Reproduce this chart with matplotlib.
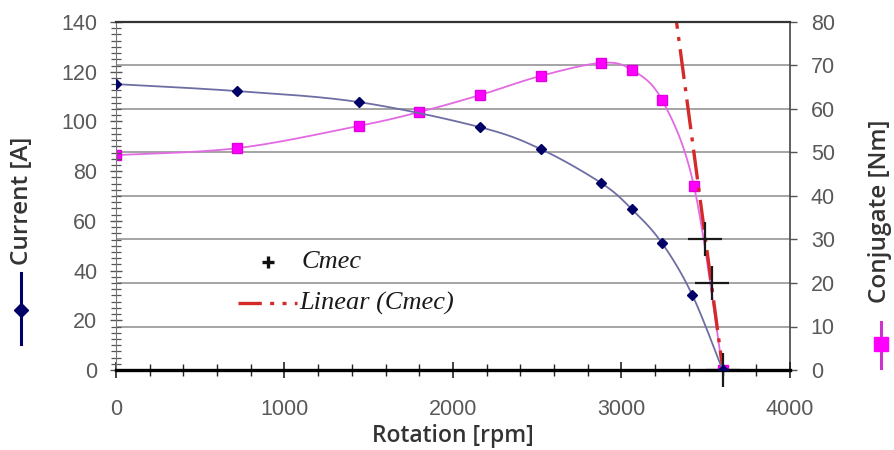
import numpy as np
import matplotlib
matplotlib.use("Agg")
import matplotlib.pyplot as plt
from matplotlib.lines import Line2D
from matplotlib.ticker import MultipleLocator

# --------------------------
# Data
# --------------------------
rpm_current = [0, 720, 1440, 2160, 2520, 2880, 3060, 3240, 3420, 3600]
current_a = [115.0, 112.2, 107.8, 97.7, 88.9, 75.2, 64.8, 51.1, 30.2, 0.0]

rpm_torque = [0, 720, 1440, 1800, 2160, 2520, 2880, 3060, 3240, 3430, 3600]
torque_nm = [49.4, 51.0, 56.1, 59.3, 63.2, 67.6, 70.6, 69.0, 62.1, 42.3, 0.0]

rpm_cmec = [3496, 3537, 3600]
cmec_nm = [30.0, 20.0, 0.0]

x_ticks = [0, 1000, 2000, 3000, 4000]
left_ticks = [0, 20, 40, 60, 80, 100, 120, 140]
right_ticks = [0, 10, 20, 30, 40, 50, 60, 70, 80]


# --------------------------
# Excel-like smoothed line (Catmull-Rom in axis-normalised space)
# --------------------------
def smooth(x, y, xspan, yspan, n=30):
    p = np.column_stack([np.asarray(x, float) / xspan, np.asarray(y, float) / yspan])
    p = np.vstack([p[0], p, p[-1]])
    out = []
    t = np.linspace(0, 1, n)[:, None]
    for i in range(1, len(p) - 2):
        p0, p1, p2, p3 = p[i - 1], p[i], p[i + 1], p[i + 2]
        seg = 0.5 * ((2 * p1) + (-p0 + p2) * t + (2 * p0 - 5 * p1 + 4 * p2 - p3) * t ** 2
                     + (-p0 + 3 * p1 - 3 * p2 + p3) * t ** 3)
        out.append(seg if i == 1 else seg[1:])
    out = np.vstack(out)
    return out[:, 0] * xspan, out[:, 1] * yspan


def fx(px):
    return px / 894


def fy(py):
    return 1 - py / 450


tick_font = "Liberation Sans"
label_font = "Open Sans"
tick_color = "#595959"
tick_size = 15.5
title_size = 17.5
legend_font = {"family": "Liberation Serif", "style": "italic", "size": 19, "color": "#1a1a1a"}
fit_color = "#d42a2a"

fig = plt.figure(figsize=(8.94, 4.5), dpi=100)
ax = fig.add_axes([fx(116), fy(370), fx(790 - 116), (370 - 22) / 450])
ax2 = ax.twinx()

# current on top of the torque axes (grid lives on ax2)
ax.set_zorder(ax2.get_zorder() + 1)
ax.patch.set_visible(False)

# --------------------------
# Torque + Cmec (right axis)
# --------------------------
ax2.grid(axis="y", color="#8c8c8c", linewidth=1.1, zorder=0)
ax2.set_axisbelow(True)

sx, sy = smooth(rpm_torque, torque_nm, 4000, 80)
ax2.plot(sx, sy, color="#e26ae2", linewidth=1.3, zorder=2)
ax2.plot(rpm_torque, torque_nm, linestyle="none", marker="s", markersize=7.5,
         color="#ff00ff", markeredgecolor="#e000e0", zorder=3)

coef = np.polyfit(rpm_cmec, cmec_nm, 1)
fit_x = np.array([3000, 3700])
ax2.plot(fit_x, np.polyval(coef, fit_x), color=fit_color, linewidth=2.4,
         dashes=(9, 2.5, 1.2, 2.5), zorder=4)
ax2.plot(rpm_cmec, cmec_nm, linestyle="none", marker="+", markersize=24,
         markeredgewidth=1.6, color="#1a1a1a", zorder=5, clip_on=False)

# --------------------------
# Current (left axis)
# --------------------------
cx, cy = smooth(rpm_current, current_a, 4000, 140)
ax.plot(cx, cy, color="#6e6ea4", linewidth=1.3, zorder=2)
ax.plot(rpm_current, current_a, linestyle="none", marker="D", markersize=5.5,
        color="#000066", zorder=3)

# --------------------------
# Axes / ticks
# --------------------------
ax.set_xlim(0, 4000)
ax.set_ylim(0, 140)
ax2.set_ylim(0, 80)

ax.set_xticks(x_ticks)
ax.xaxis.set_minor_locator(MultipleLocator(200))
ax.set_yticks(left_ticks)
ax.yaxis.set_minor_locator(MultipleLocator(2.5))
ax2.set_yticks(right_ticks)

ax.tick_params(axis="x", which="major", direction="inout", length=12, width=1.2,
               color="#222222", labelsize=tick_size, labelcolor=tick_color, pad=15)
ax.tick_params(axis="x", which="minor", direction="inout", length=9, width=1.0, color="#222222")
ax.tick_params(axis="y", which="major", direction="inout", length=9, width=1.0,
               color="#555555", labelsize=tick_size, labelcolor=tick_color, pad=9)
ax.tick_params(axis="y", which="minor", direction="inout", length=7, width=0.9, color="#555555")
ax2.tick_params(axis="y", which="major", direction="out", length=5, width=1.0,
                color="#555555", labelsize=tick_size, labelcolor=tick_color, pad=10)
for lab in ax.get_xticklabels() + ax.get_yticklabels() + ax2.get_yticklabels():
    lab.set_fontfamily(tick_font)

for a in (ax, ax2):
    for side in ("top", "left", "right", "bottom"):
        a.spines[side].set_visible(False)
ax.spines["bottom"].set_visible(True)
ax.spines["bottom"].set_linewidth(2.4)
ax.spines["bottom"].set_color("#000000")
ax.spines["top"].set_visible(True)
ax.spines["top"].set_linewidth(1.6)
ax.spines["top"].set_color("#333333")
ax.spines["left"].set_visible(True)
ax.spines["left"].set_color("#777777")
ax2.spines["right"].set_visible(True)
ax2.spines["right"].set_color("#444444")
ax2.spines["right"].set_linewidth(1.2)

ax.set_xlabel("Rotation [rpm]", fontfamily=label_font, fontweight="semibold",
              fontsize=title_size - 1, color="#333333", labelpad=3)

# --------------------------
# Axis titles with series keys (Excel style)
# --------------------------
fig.text(fx(22), fy(201), "Current [A]", rotation=90, ha="center", va="center",
         fontfamily=label_font, fontweight="semibold", fontsize=title_size, color="#333333")
fig.add_artist(Line2D([fx(21), fx(21)], [fy(273), fy(344)], color="#000066", linewidth=2.2))
fig.add_artist(Line2D([fx(21)], [fy(310)], marker="D", markersize=7.5, color="#000066"))

fig.text(fx(880), fy(211), "Conjugate [Nm]", rotation=90, ha="center", va="center",
         fontfamily=label_font, fontweight="semibold", fontsize=title_size, color="#333333")
fig.add_artist(Line2D([fx(881), fx(881)], [fy(322), fy(368)], color="#cc33cc", linewidth=2.2))
fig.add_artist(Line2D([fx(881)], [fy(344)], marker="s", markersize=10, color="#ff00ff"))

# --------------------------
# Legend for Cmec (drawn by hand, Excel layout)
# --------------------------
fig.add_artist(Line2D([fx(268)], [fy(262)], marker="+", markersize=9,
                      markeredgewidth=2.4, color="#111111"))
fig.text(fx(302), fy(262), "Cmec", ha="left", va="center", **legend_font)
fig.add_artist(Line2D([fx(238), fx(297)], [fy(303), fy(303)], color=fit_color,
                      linewidth=2.4, dashes=(7, 2.5, 1.2, 2.5, 1.2, 2.5)))
fig.text(fx(299), fy(303), "Linear (Cmec)", ha="left", va="center", **legend_font)

fig.savefig("out.png", dpi=100)
